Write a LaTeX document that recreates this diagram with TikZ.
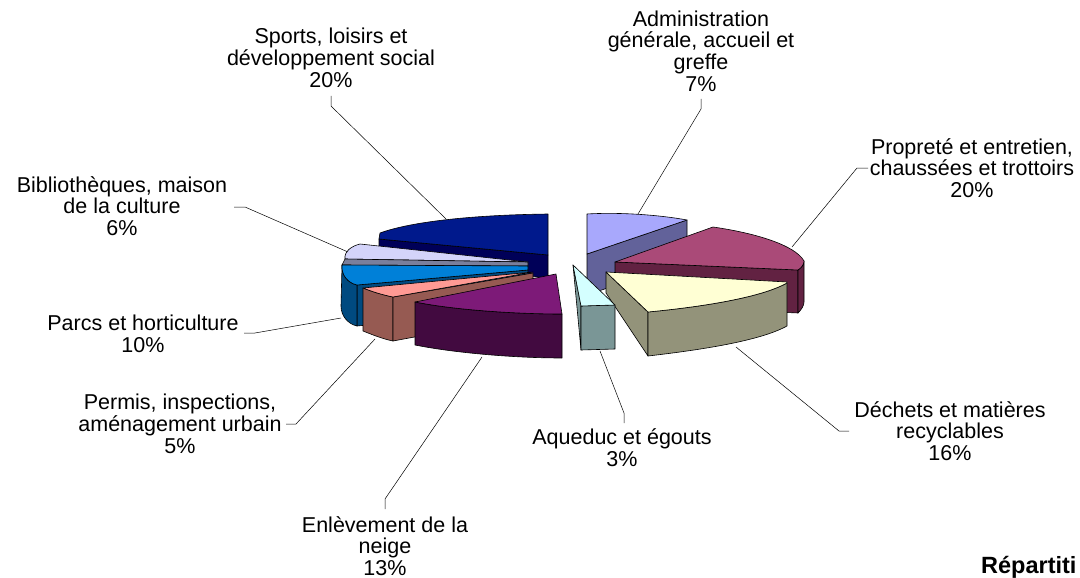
\documentclass[tikz,border=0pt]{standalone}
\usepackage{fontspec}
\setmainfont{Liberation Sans}
\definecolor{navyT}{HTML}{00198C}
\definecolor{navyS}{HTML}{000058}
\definecolor{lavT}{HTML}{D4D4FA}
\definecolor{lavS}{HTML}{7A7F9C}
\definecolor{blueT}{HTML}{0080D8}
\definecolor{blueS}{HTML}{004A80}
\definecolor{pinkT}{HTML}{FF9A94}
\definecolor{pinkS}{HTML}{965A52}
\definecolor{purT}{HTML}{7D1A78}
\definecolor{purS}{HTML}{420A40}
\definecolor{periT}{HTML}{A8A8FC}
\definecolor{periS}{HTML}{62629A}
\definecolor{marT}{HTML}{AA4A78}
\definecolor{marS}{HTML}{622242}
\definecolor{crT}{HTML}{FFFFD4}
\definecolor{crS}{HTML}{93937A}
\definecolor{cyT}{HTML}{D4FFFF}
\definecolor{cyS}{HTML}{7A9696}
\tikzset{
  face/.style={draw=black, line width=0.6pt, line join=round},
  lead/.style={draw=black, line width=0.5pt},
  lbl/.style={align=center, inner sep=0pt, font=\fontsize{21.5}{21.7}\selectfont},
}
\begin{document}
\begin{tikzpicture}[x=1pt,y=-1pt]
\clip (0,0) rectangle (1080,578);
\fill[white] (0,0) rectangle (1080,578);
% --- Sports (navy)
\filldraw[face,fill=navyS] (379,239) -- (548,255) -- (548,278) -- (379,262) -- cycle;
\filldraw[face,fill=navyT] (379,239) -- (380,233) .. controls (410,222) and (470,215) .. (548,214) -- (548,255) -- cycle;
% --- Administration (periwinkle)
\filldraw[face,fill=periS] (587,254) -- (687,220) -- (687,261) -- (587,295) -- cycle;
\filldraw[face,fill=periT] (587,214) .. controls (620,212) and (660,215) .. (687,220) -- (587,254) -- cycle;
% --- Bibliotheques (lavender)
\filldraw[face,fill=lavT] (345,259) .. controls (344,251) and (352,246) .. (360,244) -- (528,262) -- cycle;
\filldraw[face,fill=lavS] (345,259) -- (528,262) -- (528,266) -- (342,265) -- cycle;
% --- Parcs (blue)
\filldraw[face,fill=blueS] (357,285) -- (528,270) -- (528,310) -- (357,326) -- cycle;
\filldraw[face,fill=blueS] (342,265) .. controls (341,275) and (348,283) .. (357,285) -- (357,326) .. controls (348,324) and (341,316) .. (341,306) -- cycle;
\filldraw[face,fill=blueT] (342,265) -- (528,266) -- (528,270) -- (357,285) .. controls (348,283) and (341,275) .. (342,265) -- cycle;
% --- Permis (pink)
\filldraw[face,fill=pinkS] (363,288) .. controls (373,292) and (383,295) .. (393,297) -- (393,341) .. controls (383,339) and (373,335) .. (363,331) -- cycle;
\filldraw[face,fill=pinkS] (393,297) -- (533,273) -- (533,315) -- (393,341) -- cycle;
\filldraw[face,fill=pinkT] (363,288) -- (533,272) -- (393,297) .. controls (383,295) and (373,292) .. (363,288) -- cycle;
% --- Enlevement de la neige (purple)
\filldraw[face,fill=purS] (415,302) .. controls (455,310) and (515,314) .. (562,314) -- (562,358) .. controls (515,358) and (455,353) .. (415,345) -- cycle;
\filldraw[face,fill=purT] (415,302) -- (556,274) -- (562,314) .. controls (515,314) and (455,310) .. (415,302) -- cycle;
% --- Proprete (maroon)
\filldraw[face,fill=marS] (615,262) -- (798,270) -- (798,313) -- (615,305) -- cycle;
\filldraw[face,fill=marS] (798,270) .. controls (801,268) and (804,265) .. (804,261) -- (804,302) .. controls (804,306) and (801,310) .. (798,313) -- cycle;
\filldraw[face,fill=marT] (615,262) -- (713,227) .. controls (755,233) and (795,245) .. (804,261) .. controls (804,265) and (801,268) .. (798,270) -- cycle;
% --- Dechets (cream / khaki)
\filldraw[face,fill=crS] (606,272) -- (648,312) -- (648,356) -- (606,293) -- cycle;
\filldraw[face,fill=crS] (648,312) .. controls (700,307) and (760,298) .. (787,283) -- (787,326) .. controls (760,341) and (700,350) .. (648,356) -- cycle;
\filldraw[face,fill=crT] (606,272) -- (787,282) -- (787,283) .. controls (760,298) and (700,307) .. (648,312) -- cycle;
% --- Aqueduc (cyan)
\filldraw[face,fill=cyS] (573,265) -- (581,306) -- (581,350) -- cycle;
\filldraw[face,fill=cyS] (581,306) -- (615,305) -- (615,349) -- (581,350) -- cycle;
\filldraw[face,fill=cyT] (573,265) -- (615,305) -- (581,306) -- cycle;
% --- labels
\node[lbl] (sports) at (331,58) {Sports, loisirs et\\développement social\\20\%};
\node[lbl] (admin) at (701,51) {Administration\\générale, accueil et\\greffe\\7\%};
\node[lbl] (propre) at (972,168) {Propreté et entretien,\\chaussées et trottoirs\\20\%};
\node[lbl] (biblio) at (122,206) {Bibliothèques, maison\\de la culture\\6\%};
\node[lbl] (parcs) at (143,333.5) {Parcs et horticulture\\10\%};
\node[lbl] (permis) at (180,424) {Permis, inspections,\\aménagement urbain\\5\%};
\node[lbl] (neige) at (385,546) {Enlèvement de la\\neige\\13\%};
\node[lbl] (aqueduc) at (622,448) {Aqueduc et égouts\\3\%};
\node[lbl] (dechets) at (950,431) {Déchets et matières\\recyclables\\16\%};
\node[lbl,anchor=west,font=\fontsize{23.5}{24}\selectfont\bfseries] (titre) at (981,567) {Répartiti};
% --- leader lines
\coordinate (sA) at (331,96); \coordinate (sB) at (331,106); \coordinate (sC) at (446,219);
\coordinate (aA) at (701,99); \coordinate (aB) at (701,109); \coordinate (aC) at (638,214);
\coordinate (pA) at (868,168); \coordinate (pB) at (857,168); \coordinate (pC) at (792,247);
\coordinate (bA) at (234,207); \coordinate (bB) at (245,207); \coordinate (bC) at (348,252);
\coordinate (hA) at (244,333); \coordinate (hB) at (255,333); \coordinate (hC) at (341,318);
\coordinate (mA) at (286,424); \coordinate (mB) at (296,424); \coordinate (mC) at (375,339);
\coordinate (nA) at (385,509); \coordinate (nB) at (385,499); \coordinate (nC) at (482,357);
\coordinate (qA) at (624,423); \coordinate (qB) at (624,413); \coordinate (qC) at (600,351);
\coordinate (dA) at (849,431); \coordinate (dB) at (839,431); \coordinate (dC) at (736,347);
\draw[lead] (sA) -- (sB) -- (sC);
\draw[lead] (aA) -- (aB) -- (aC);
\draw[lead] (pA) -- (pB) -- (pC);
\draw[lead] (bA) -- (bB) -- (bC);
\draw[lead] (hA) -- (hB) -- (hC);
\draw[lead] (mA) -- (mB) -- (mC);
\draw[lead] (nA) -- (nB) -- (nC);
\draw[lead] (qA) -- (qB) -- (qC);
\draw[lead] (dA) -- (dB) -- (dC);
\end{tikzpicture}
\end{document}
